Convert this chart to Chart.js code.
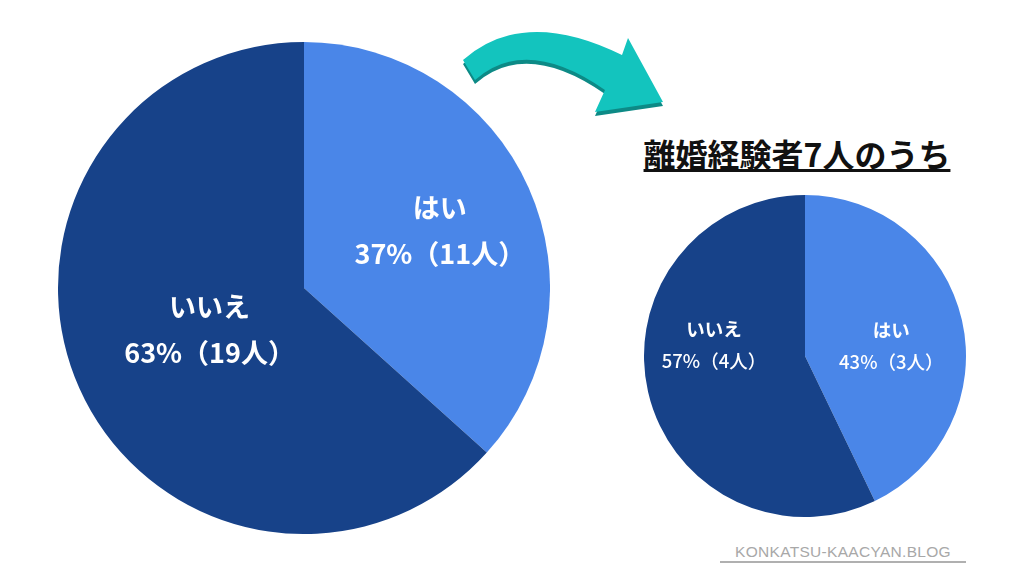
<!DOCTYPE html>
<html>
<head>
<meta charset="utf-8">
<script src="https://cdn.jsdelivr.net/npm/chart.js@4/dist/chart.umd.min.js"></script>
<style>
  html, body { margin: 0; padding: 0; background: #fff; }
  #page { position: relative; width: 1024px; height: 576px; overflow: hidden; font-family: "Noto Sans CJK JP", sans-serif; }
  #bigWrap { position: absolute; left: 58px; top: 42px; width: 492px; height: 492px; }
  #smallWrap { position: absolute; left: 644px; top: 195px; width: 322px; height: 322px; }
  #title { position: absolute; left: 597px; width: 400px; top: 131px; text-align: center; font-size: 32px; font-weight: 700; color: #111; line-height: 44px; }
  #title span { text-decoration: underline; text-decoration-thickness: 3px; text-underline-offset: 2px; }
  #mark { position: absolute; left: 720px; width: 246px; top: 543px; text-align: center; font-family: "Liberation Sans", sans-serif; font-size: 15.5px; letter-spacing: 0.3px; color: #a8a8a8; border-bottom: 2px solid #b0b0b0; line-height: 18px; }
  svg { position: absolute; left: 0; top: 0; }
</style>
</head>
<body>
<div id="page">
  <svg width="1024" height="576">
    <path d="M463,64 Q523.5,10.5 622,59 L628,42 L663,106 L595,116 L605,94 Q526,39 475,84 Z" fill="#0d8a86"/>
    <path d="M463,60 Q523.5,6.5 622,55 L628,38 L663,102 L595,112 L605,90 Q526,35 475,80 Z" fill="#13c4be"/>
  </svg>
  <div id="bigWrap"><canvas id="big"></canvas></div>
  <div id="smallWrap"><canvas id="small"></canvas></div>
  <div id="title"><span>離婚経験者7人のうち</span></div>
  <div id="mark">KONKATSU-KAACYAN.BLOG</div>
</div>
<script>
// answers to the question (all respondents)
const answerLabels = ['はい', 'いいえ'];
const allCounts = [11, 19];
// those with divorce experience (7 people)
const divorcedCounts = [3, 4];
const sliceColors = ['#4a86e8', '#174289'];

// draws "label" + "xx%（n人）" inside each slice
const sliceLabels = {
  id: 'sliceLabels',
  afterDatasetsDraw(chart, args, opts) {
    const ctx = chart.ctx;
    const meta = chart.getDatasetMeta(0);
    const values = chart.data.datasets[0].data;
    const total = values.reduce((a, b) => a + b, 0);
    ctx.save();
    ctx.fillStyle = '#fff';
    ctx.textAlign = 'center';
    ctx.textBaseline = 'middle';
    meta.data.forEach((arc, i) => {
      const p = arc.getProps(['x', 'y', 'startAngle', 'endAngle', 'outerRadius'], true);
      const mid = (p.startAngle + p.endAngle) / 2 + opts.shift[i] * Math.PI / 180;
      const r = p.outerRadius * opts.radius[i];
      const x = p.x + Math.cos(mid) * r;
      const y = p.y + Math.sin(mid) * r;
      const pct = Math.round(values[i] / total * 100);
      ctx.font = '700 ' + opts.size + 'px "Noto Sans CJK JP"';
      ctx.fillText(chart.data.labels[i], x, y - opts.gap / 2);
      ctx.font = opts.weight2 + ' ' + opts.size + 'px "Noto Sans CJK JP"';
      ctx.fillText(pct + '%（' + values[i] + '人）', x, y + opts.gap / 2);
    });
    ctx.restore();
  }
};

function makePie(id, counts, labelOpts) {
  const ctx = document.getElementById(id).getContext('2d');
  return new Chart(ctx, {
    type: 'pie',
    data: {
      labels: answerLabels,
      datasets: [{
        data: counts,
        backgroundColor: sliceColors,
        borderWidth: 0
      }]
    },
    options: {
      responsive: true,
      maintainAspectRatio: false,
      animation: false,
      layout: { padding: 0 },
      plugins: {
        legend: { display: false },
        tooltip: { enabled: false },
        sliceLabels: labelOpts
      }
    },
    plugins: [sliceLabels]
  });
}

makePie('big', allCounts, { shift: [1, 0], radius: [0.6, 0.42], size: 27, gap: 46, weight2: '700' });
makePie('small', divorcedCounts, { shift: [6, 20], radius: [0.54, 0.57], size: 18.5, gap: 32, weight2: '500' });
</script>
</body>
</html>
